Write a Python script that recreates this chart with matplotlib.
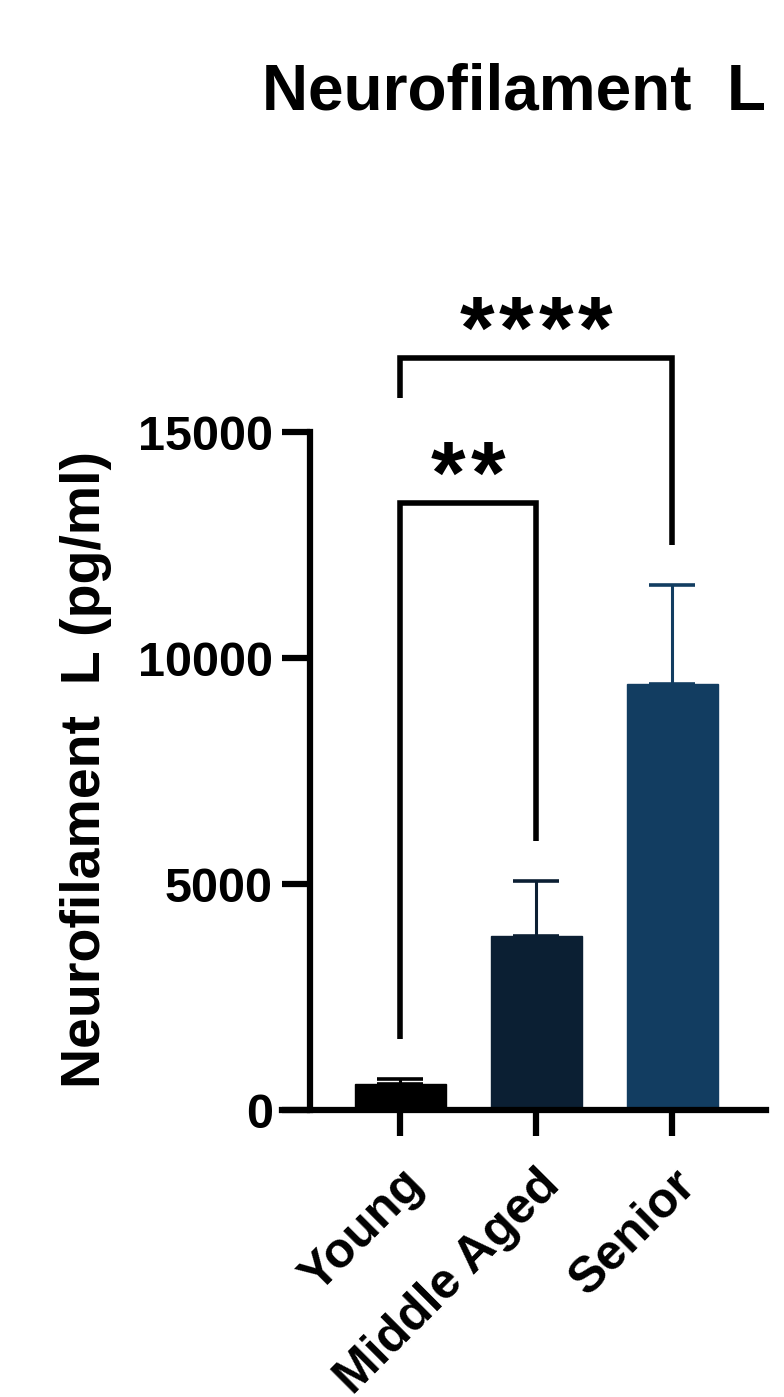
import matplotlib.pyplot as plt
import numpy as np

plt.rcParams['font.family'] = ['Liberation Sans', 'DejaVu Sans']
plt.rcParams['font.weight'] = 'bold'

groups = ["Young", "Middle Aged", "Senior"]
means = [580, 3850, 9420]
sem = [110, 1210, 2190]
colors = ["#000000", "#0b1f33", "#123d61"]

# significance brackets: left group, right group, top, left leg end, right leg end, stars
brackets = [
    (0, 2, 16640, 15750, 12500, "****"),
    (0, 1, 13430, 1570, 5950, "**"),
]

fig = plt.figure(figsize=(7.84, 13.97), dpi=100)
ax = fig.add_axes([0.3597, 0.2054, 0.6173, 0.5984])

x = np.arange(len(groups))
ax.bar(x, means, width=0.67, color=colors, edgecolor=colors, linewidth=1, zorder=2)
for i in range(len(groups)):
    ax.errorbar(x[i], means[i], yerr=[[0], [sem[i]]], fmt='none', ecolor=colors[i],
                elinewidth=2.2, capsize=16.5, capthick=2.6, zorder=1)

ax.set_xlim(-0.868, 2.69)
ax.set_ylim(0, 18500)

for s in ['top', 'right']:
    ax.spines[s].set_visible(False)
ax.spines['left'].set_position(('data', -0.66))
ax.spines['left'].set_bounds(0, 15000)
ax.spines['left'].set_linewidth(4.5)
ax.spines['bottom'].set_linewidth(4.5)

ax.set_yticks([0, 5000, 10000, 15000])
ax.tick_params(axis='y', length=20, width=4.5, labelsize=35, pad=7)
ax.tick_params(axis='x', length=19, width=4.5, labelsize=36, pad=18)
ax.set_xticks(x, groups, rotation=45, ha='right', rotation_mode='anchor')

# stars are spaced out one by one, a bit wider than the font does it
star_pitch = 28.4
for x0, x1, h, l0, l1, label in brackets:
    ax.plot([x0, x0, x1, x1], [l0, h, h, l1], color='black', lw=4,
            clip_on=False, solid_joinstyle='miter', solid_capstyle='butt')
    n = len(label)
    for k, ch in enumerate(label):
        dx = (k - (n - 1) / 2) * star_pitch
        ax.annotate(ch, xy=((x0 + x1) / 2, h), xytext=(dx, 0), textcoords='offset points',
                    ha='center', va='baseline', fontsize=64, annotation_clip=False)

fig.text(262 / 784, (1397 - 109) / 1397, "Neurofilament  L", fontsize=46,
         ha='left', va='baseline')
fig.text(100 / 784, 0.449, "Neurofilament  L (pg/ml)", fontsize=40, rotation=90,
         rotation_mode='anchor', ha='center', va='baseline')

fig.savefig("out.png", dpi=100)
